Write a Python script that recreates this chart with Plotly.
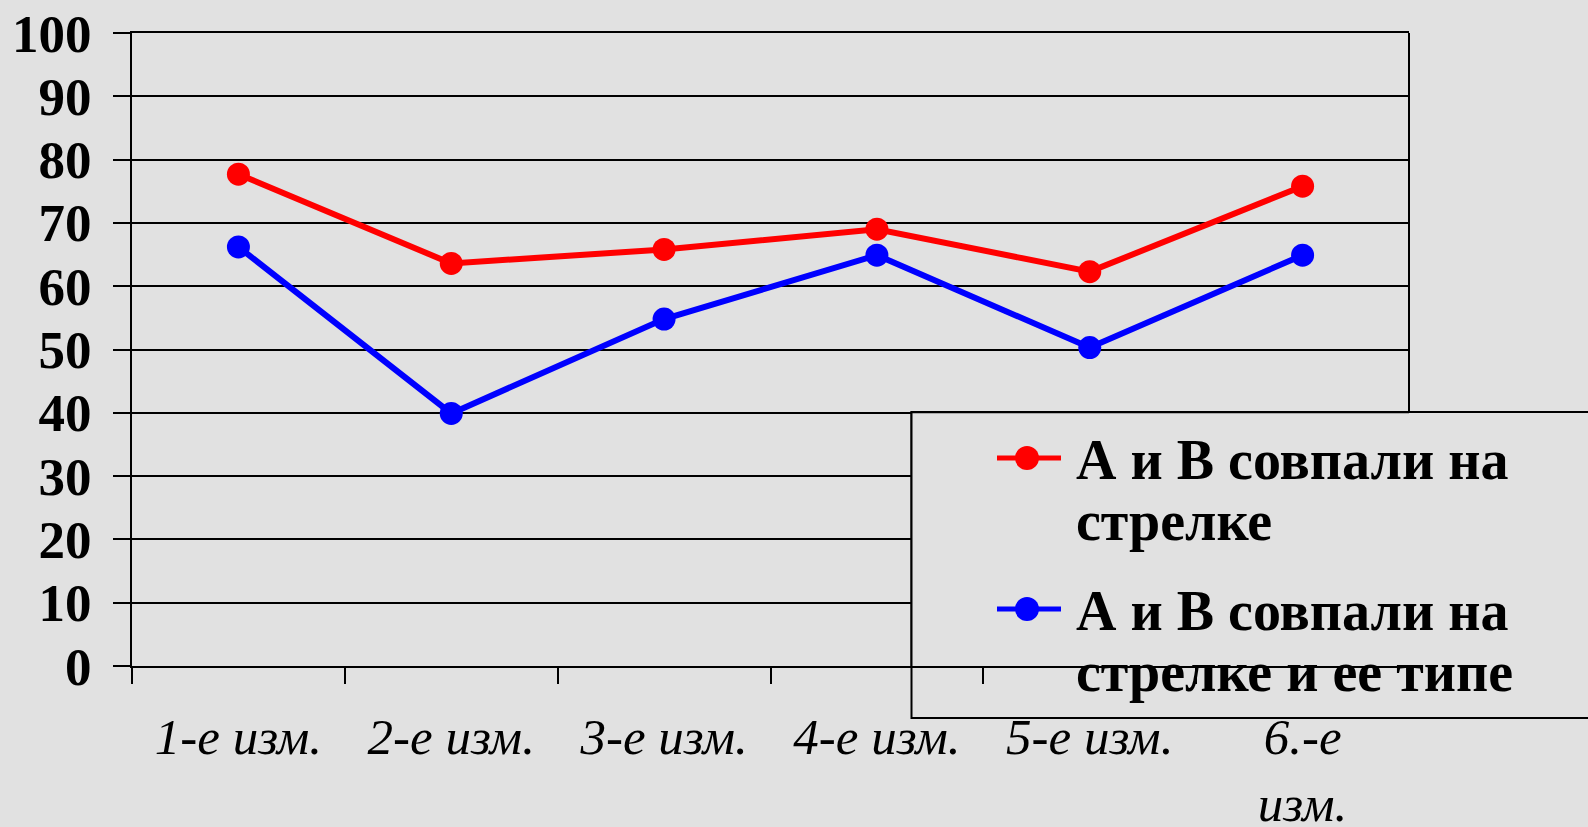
import plotly.graph_objects as go

# Measurements (percent) for each of the six sessions
categories = ["1-е изм.", "2-е изм.", "3-е изм.", "4-е изм.", "5-е изм.", "6.-е<br>изм."]
arrow_match = [77.7, 63.6, 65.8, 69.0, 62.3, 75.8]
arrow_and_type_match = [66.2, 39.9, 54.8, 64.9, 50.3, 64.9]
series_labels = [["А и В совпали на", "стрелке"], ["А и В совпали на", "стрелке и ее типе"]]
series_colors = ["#ff0000", "#0000ff"]
y_ticks = list(range(0, 101, 10))

BG = "#e1e1e1"
SERIF = "Liberation Serif, Times New Roman, serif"

# plot-area geometry in pixels
W, H = 1588, 827
L, R, T, B = 132, 1409, 33, 666


def px_x(px):
    return (px - L) / (R - L)


def px_y(py):
    return (B - py) / (B - T)


fig = go.Figure()
for labels, values, color in zip(series_labels, [arrow_match, arrow_and_type_match], series_colors):
    fig.add_trace(go.Scatter(
        x=categories, y=values, name=" ".join(labels), mode="lines+markers",
        line=dict(color=color, width=6),
        marker=dict(color=color, size=23),
        showlegend=False,
    ))

shapes = [
    # right-hand frame of the plot area
    dict(type="line", xref="paper", yref="paper", x0=1, x1=1, y0=0, y1=1,
         line=dict(color="black", width=2), layer="below"),
    # legend frame (full extent, beneath everything)
    dict(type="rect", xref="paper", yref="paper",
         x0=px_x(911.5), x1=px_x(1600), y0=px_y(718), y1=px_y(412),
         fillcolor=BG, line=dict(color="black", width=2), layer="below"),
    # legend frame again, over the gridlines but under traces and axis line
    dict(type="rect", xref="x", yref="y",
         x0=(911.5 - L) / ((R - L) / 6) - 0.5, x1=7.5, y0=-8.2, y1=40.1,
         fillcolor=BG, line=dict(color="black", width=2), layer="between"),
]

annotations = []
entry_baselines = [479, 630]
for labels, color, base in zip(series_labels, series_colors, entry_baselines):
    sym_y = base - 21
    shapes.append(dict(type="line", xref="paper", yref="paper",
                       x0=px_x(997), x1=px_x(1061), y0=px_y(sym_y), y1=px_y(sym_y),
                       line=dict(color=color, width=5), layer="above"))
    shapes.append(dict(type="circle", xref="paper", yref="paper",
                       xsizemode="pixel", ysizemode="pixel",
                       xanchor=px_x(1027), yanchor=px_y(sym_y),
                       x0=-12, x1=12, y0=-12, y1=12,
                       fillcolor=color, line=dict(width=0), layer="above"))
    for i, text in enumerate(labels):
        annotations.append(dict(
            text=text, xref="paper", yref="paper",
            x=px_x(1074), y=px_y(base + 61 * i - 19),
            xanchor="left", yanchor="middle", showarrow=False,
            font=dict(family=SERIF, size=56, color="black", weight="bold"),
        ))

fig.update_layout(
    width=W, height=H,
    margin=dict(l=L, r=W - R, t=T, b=H - B),
    paper_bgcolor=BG, plot_bgcolor="rgba(0,0,0,0)",
    showlegend=False,
    xaxis=dict(
        type="category", range=[-0.5, 5.5], tickson="boundaries",
        ticks="outside", ticklen=16, tickwidth=2, tickcolor="black",
        showline=True, linewidth=2, linecolor="black", mirror=True,
        showgrid=False, zeroline=False, automargin=False,
        tickfont=dict(family=SERIF, size=51, color="black", style="italic"),
        ticklabelstandoff=25,
    ),
    yaxis=dict(
        range=[0, 100], tickvals=y_ticks,
        ticks="outside", ticklen=17, tickwidth=2, tickcolor="black",
        showline=True, linewidth=2, linecolor="black",
        showgrid=True, gridcolor="black", gridwidth=2, zeroline=False,
        automargin=False,
        tickfont=dict(family=SERIF, size=53, color="black", weight="bold"),
        ticklabelstandoff=11,
    ),
    shapes=shapes,
    annotations=annotations,
)

fig.write_html("out.html")
